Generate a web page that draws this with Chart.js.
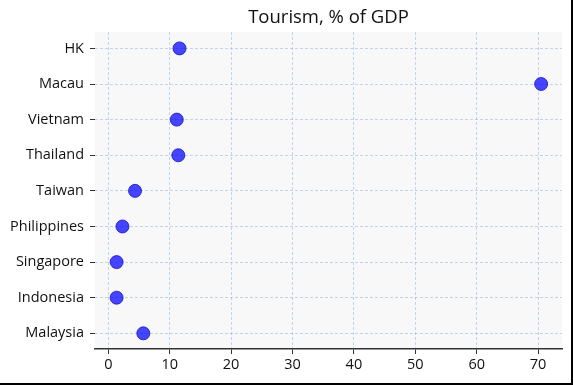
<!DOCTYPE html>
<html>
<head>
<meta charset="utf-8">
<script src="https://cdn.jsdelivr.net/npm/chart.js@4.4.1/dist/chart.umd.min.js"></script>
<style>
  html, body { margin: 0; padding: 0; background: #fff; }
  #wrap {
    width: 573px; height: 385px; box-sizing: border-box;
    border-right: 2px solid #000; border-bottom: 2px solid #000;
  }
  #tourismChart { display: block; }
</style>
</head>
<body>
<div id="wrap"><canvas id="tourismChart" width="571" height="383"></canvas></div>
<script>
// Countries, top to bottom
const countries = ['HK', 'Macau', 'Vietnam', 'Thailand', 'Taiwan', 'Philippines', 'Singapore', 'Indonesia', 'Malaysia'];
// Tourism share of GDP, %
const tourismPct = [11.6, 70.5, 11.15, 11.4, 4.35, 2.3, 1.35, 1.35, 5.7];
const xTicks = [0, 10, 20, 30, 40, 50, 60, 70];

// Fill plot area with light gray like the original
const plotBg = {
  id: 'plotBg',
  beforeDraw(chart) {
    const { ctx, chartArea } = chart;
    ctx.save();
    ctx.fillStyle = '#f8f8f8';
    ctx.fillRect(chartArea.left, chartArea.top, chartArea.right - chartArea.left, chartArea.bottom - chartArea.top);
    ctx.restore();
  }
};

const points = tourismPct.map((v, i) => ({ x: v, y: i }));
const font = { family: 'Open Sans', size: 14.5 };
const gridColor = 'rgba(120, 170, 225, 0.45)';

const ctx = document.getElementById('tourismChart').getContext('2d');
new Chart(ctx, {
  type: 'scatter',
  data: {
    datasets: [{
      data: points,
      pointRadius: 6.5,
      pointHoverRadius: 6.5,
      backgroundColor: 'rgba(0, 0, 255, 0.72)',
      borderColor: 'rgba(20, 20, 200, 0.8)',
      borderWidth: 1
    }]
  },
  options: {
    responsive: false,
    animation: false,
    layout: { padding: { top: 0, right: 9, left: 0, bottom: 0 } },
    plugins: {
      legend: { display: false },
      tooltip: { enabled: false },
      title: {
        display: true,
        fullSize: false,  // center over the plot area, not the canvas
        text: 'Tourism, % of GDP',
        color: '#111',
        font: { family: 'Open Sans', size: 18.5, weight: 'normal', lineHeight: 1.2 },
        padding: { top: 6.5, bottom: 3.3 }
      }
    },
    scales: {
      x: {
        type: 'linear',
        min: -2.17,
        max: 73.9,
        afterBuildTicks: (axis) => { axis.ticks = xTicks.map(v => ({ value: v })); },
        afterFit: (axis) => { axis.height = 34; },
        ticks: { color: '#111', font: font, padding: 2 },
        grid: { color: gridColor, lineWidth: 1, tickColor: '#333', tickLength: 5, tickWidth: 1 },
        border: { display: true, color: '#333', width: 1.5, dash: [3, 2] }
      },
      y: {
        type: 'linear',
        reverse: true,
        min: -0.46,
        max: 8.44,
        afterBuildTicks: (axis) => { axis.ticks = countries.map((c, i) => ({ value: i })); },
        afterFit: (axis) => { axis.width = 95; },
        ticks: { color: '#111', font: font, padding: 6, callback: (v) => countries[v] },
        grid: { color: gridColor, lineWidth: 1, tickColor: '#333', tickLength: 5, tickWidth: 1 },
        border: { display: false, dash: [3, 2] }
      }
    }
  },
  plugins: [plotBg]
});
</script>
</body>
</html>
